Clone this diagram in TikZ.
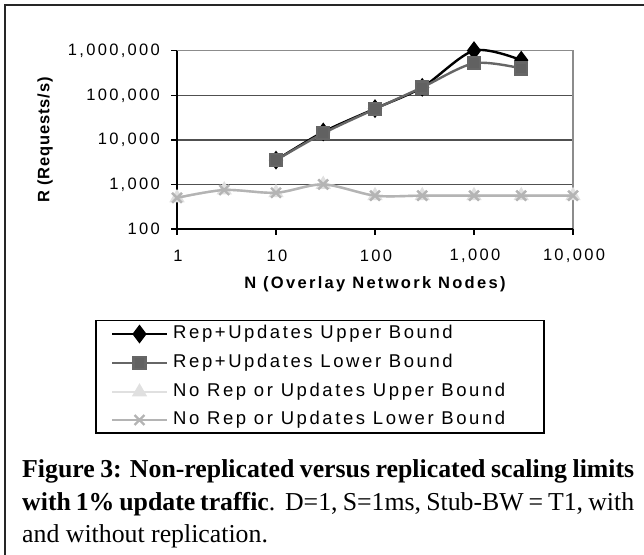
\documentclass[tikz,border=0pt]{standalone}
\usepackage{fontspec}
\setmainfont{Liberation Serif}
\newfontfamily\chartfont[LetterSpace=14]{Liberation Sans}
\newfontfamily\ytitlefont[LetterSpace=5]{Liberation Sans}
\usetikzlibrary{plotmarks}

\definecolor{replow}{HTML}{666666}
\definecolor{norepup}{HTML}{E0E0E0}
\definecolor{noreplow}{HTML}{B4B4B4}
\definecolor{gridgray}{HTML}{505050}
\definecolor{plotedge}{HTML}{8C8C8C}

\tikzset{
  ticklabel/.style={font={\chartfont\fontsize{16.5pt}{18}\selectfont}, inner sep=0},
  axistitle/.style={font={\chartfont\bfseries\fontsize{16.5pt}{19}\selectfont}, inner sep=0},
  legendtext/.style={font={\chartfont\fontsize{18.5pt}{21}\selectfont}, anchor=west, inner sep=0},
  captionline/.style={font={\fontsize{25.8pt}{33}\selectfont}, anchor=base west, inner sep=0},
  repupper/.style={black, line width=2.4},
  replower/.style={replow, line width=2.4},
  noreupper/.style={norepup, line width=2.4},
  norelower/.style={noreplow, line width=2.4},
}

\begin{document}
\begin{tikzpicture}[x=1pt, y=-1pt]
  \useasboundingbox (0,0) rectangle (644,554);
  % outer frame (cut at right and bottom)
  \draw[black!85, line width=2] (5,5) rectangle (700,620);

  % grid and plot edge
  \draw[gridgray, line width=1.2] (177,95.3) -- (573,95.3);
  \draw[gridgray, line width=1.2] (177,139.9) -- (573,139.9);
  \draw[gridgray, line width=1.2] (177,184.5) -- (573,184.5);
  \draw[plotedge, line width=1.5] (177,50.7) -- (573,50.7) -- (573,229);

  % axes and ticks
  \draw[black, line width=1.2] (177,50.7) -- (177,229) -- (573,229);
  \draw[black, line width=1.2] (171,50.7) -- (177,50.7) (171,95.3) -- (177,95.3)
    (171,139.9) -- (177,139.9) (171,184.5) -- (177,184.5) (171,229) -- (177,229);
  \draw[black, line width=1.2] (177,229) -- (177,235) (276,229) -- (276,235)
    (375,229) -- (375,235) (474,229) -- (474,235) (573,229) -- (573,235);

  % tick labels
  \node[ticklabel, anchor=east] (ylab6) at (160,50.7) {1,000,000};
  \node[ticklabel, anchor=east] (ylab5) at (160,95.3) {100,000};
  \node[ticklabel, anchor=east] (ylab4) at (160,139.9) {10,000};
  \node[ticklabel, anchor=east] (ylab3) at (160,184.5) {1,000};
  \node[ticklabel, anchor=east] (ylab2) at (160,229) {100};
  \node[ticklabel] (xlab0) at (178,256) {1};
  \node[ticklabel] (xlab1) at (277,256) {10};
  \node[ticklabel] (xlab2) at (376,256) {100};
  \node[ticklabel] (xlab3) at (475,256) {1,000};
  \node[ticklabel] (xlab4) at (574,256) {10,000};

  % axis titles
  \node[axistitle] (xtitle) at (375,284) {N (Overlay Network Nodes)};
  \node[axistitle, font={\ytitlefont\bfseries\fontsize{16.5pt}{19}\selectfont}, rotate=90]
    (ytitle) at (45,140) {R (Requests/s)};

  % data, log scale
  \begin{scope}[shift={(177,229)}, x=99pt, y=44.6pt]
    \draw[repupper] plot[smooth, mark=diamond*, mark size=7.5, mark options={fill=black}]
      coordinates {(1,1.544) (1.477,2.176) (2,2.699) (2.477,3.176) (3,4.0) (3.477,3.785)};
    \draw[replower] plot[smooth, mark=square*, mark size=6, mark options={fill=replow!95!black}]
      coordinates {(1,1.544) (1.477,2.146) (2,2.69) (2.477,3.176) (3,3.716) (3.477,3.6)};
    \draw[noreupper] plot[smooth, mark=triangle*, mark size=6.5, mark options={fill=norepup}]
      coordinates {(0,0.699) (0.477,0.875) (1,0.813) (1.477,1.0) (2,0.748) (2.477,0.748)
        (3,0.748) (3.477,0.748) (4,0.748)};
    \draw[norelower] plot[smooth, mark=x, mark size=7]
      coordinates {(0,0.699) (0.477,0.875) (1,0.813) (1.477,1.0) (2,0.748) (2.477,0.748)
        (3,0.748) (3.477,0.748) (4,0.748)};
  \end{scope}

  % legend
  \draw[black, line width=1.3] (96,320.7) rectangle (544,433);
  \draw[repupper] plot[mark=diamond*, mark size=7.5, mark options={fill=black}, mark indices={2}]
    coordinates {(112,334) (139.5,334) (167,334)};
  \draw[replower] plot[mark=square*, mark size=6, mark options={fill=replow!95!black}, mark indices={2}]
    coordinates {(112,363) (139.5,363) (167,363)};
  \draw[noreupper] plot[mark=triangle*, mark size=6.5, mark options={fill=norepup}, mark indices={2}]
    coordinates {(112,392) (139.5,392) (167,392)};
  \draw[norelower] plot[mark=x, mark size=7, mark indices={2}]
    coordinates {(112,420) (139.5,420) (167,420)};
  \node[legendtext] (leg1) at (173,334) {Rep+Updates Upper Bound};
  \node[legendtext] (leg2) at (173,363) {Rep+Updates Lower Bound};
  \node[legendtext] (leg3) at (173,392) {No Rep or Updates Upper Bound};
  \node[legendtext] (leg4) at (173,420) {No Rep or Updates Lower Bound};

  % caption
  \node[captionline] (cap1) at (22,477)
    {\makebox[612pt][s]{\bfseries Figure 3: Non-replicated versus replicated scaling limits}};
  \node[captionline] (cap2) at (22,510)
    {\makebox[612pt][s]{\textbf{with 1\% update traffic}.\ \ D=1, S=1ms, Stub-BW = T1, with}};
  \node[captionline] (cap3) at (22,542) {and without replication.};
\end{tikzpicture}
\end{document}
